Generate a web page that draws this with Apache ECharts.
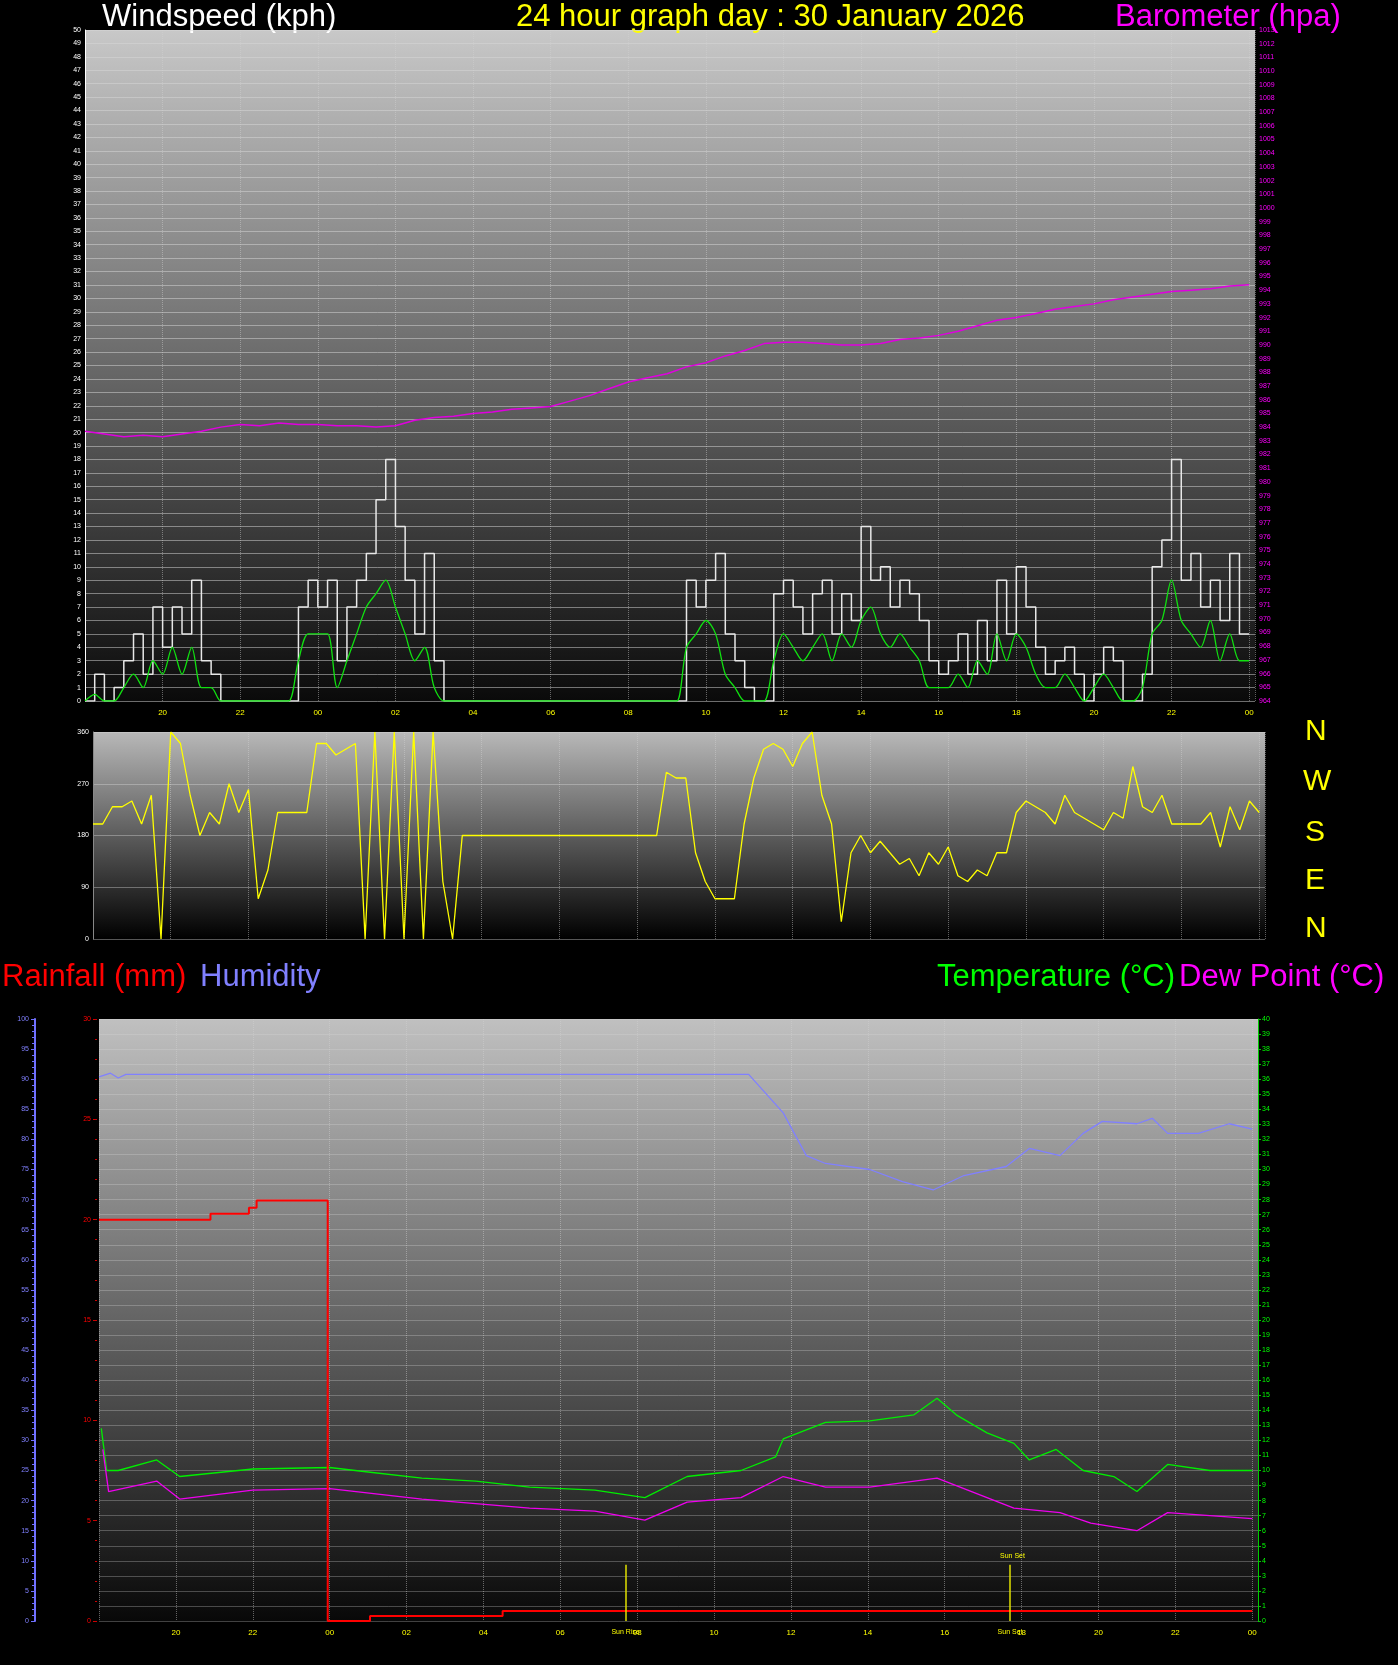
<!DOCTYPE html>
<html><head><meta charset="utf-8">
<script src="https://cdn.jsdelivr.net/npm/echarts@6/dist/echarts.min.js"></script>
<style>html,body{margin:0;background:#000}#c{width:1398px;height:1665px}</style>
</head><body><div id="c"></div>
<script>
// hours measured from 00:00 of previous day (18 = 18:00, 48 = 00:00 next)
const gustByHour = {
 18:[0,2,0,1],19:[3,5,2,7],20:[4,7,5,9],21:[3,2,0,0],22:[0,0,0,0],23:[0,0,7,9],
 24:[7,9,3,7],25:[9,11,15,18],26:[13,9,5,11],27:[3,0,0,0],28:[0,0,0,0],29:[0,0,0,0],
 30:[0,0,0,0],31:[0,0,0,0],32:[0,0,0,0],33:[0,0,9,7],34:[9,11,5,3],35:[1,0,0,8],
 36:[9,7,5,8],37:[9,5,8,6],38:[13,9,10,7],39:[9,8,6,3],40:[2,3,5,2],41:[6,3,9,5],
 42:[10,7,4,2],43:[3,4,2,0],44:[2,4,3,0],45:[0,2,10,12],46:[18,9,11,7],47:[9,6,11,5],48:[5]};
const avgByHour = {
 18:[0,0.5,0,0],19:[1,2,1,3],20:[2,4,2,4],21:[1,1,0,0],22:[0,0,0,0],23:[0,0,3,5],
 24:[5,5,1,3],25:[5,7,8,9],26:[7,5,3,4],27:[1,0,0,0],28:[0,0,0,0],29:[0,0,0,0],
 30:[0,0,0,0],31:[0,0,0,0],32:[0,0,0,0],33:[0,0,4,5],34:[6,5,2,1],35:[0,0,0,3],
 36:[5,4,3,4],37:[5,3,5,4],38:[6,7,5,4],39:[5,4,3,1],40:[1,1,2,1],41:[3,2,5,3],
 42:[5,4,2,1],43:[1,2,1,0],44:[1,2,1,0],45:[0,1,5,6],46:[9,6,5,4],47:[6,3,5,3],48:[3]};
const dirByHour = {
 18:[200,200,230,230],19:[240,200,250,0],20:[360,340,250,180],21:[220,200,270,220],
 22:[260,70,120,220],23:[220,220,220,340],24:[340,320,330,340],25:[0,360,0,360],
 26:[0,360,0,360],27:[100,0,180,180],28:[180,180,180,180],29:[180,180,180,180],
 30:[180,180,180,180],31:[180,180,180,180],32:[180,180,180,290],33:[280,280,150,100],
 34:[70,70,70,200],35:[280,330,340,330],36:[300,340,360,250],37:[200,30,150,180],
 38:[150,170,150,130],39:[140,110,150,130],40:[160,110,100,120],41:[110,150,150,220],
 42:[240,230,220,200],43:[250,220,210,200],44:[190,220,210,300],45:[230,220,250,200],
 46:[200,200,200,220],47:[160,230,190,240],48:[220]};
const baroValues = [983.7,983.5,983.3,983.4,983.3,983.5,983.7,984.0,984.2,984.1,984.3,984.2,
 984.2,984.1,984.1,984.0,984.1,984.5,984.7,984.8,985.0,985.1,985.3,985.4,985.5,985.9,986.3,
 986.8,987.3,987.6,987.9,988.4,988.7,989.2,989.6,990.1,990.2,990.2,990.1,990.0,990.0,990.1,
 990.4,990.5,990.7,991.0,991.4,991.8,992.0,992.3,992.6,992.8,993.0,993.3,993.5,993.7,993.9,
 994.0,994.1,994.3,994.4];
const humidity = [[18,90.4],[18.3,91],[18.5,90.2],[18.7,90.8],[19,90.8],[34.9,90.8],[35.8,84.4],[36.4,77.3],
 [36.9,76],[38.05,75],[38.9,73],[39.7,71.6],[40.5,74],[41.6,75.5],[42.2,78.5],[43,77.3],[43.6,81],
 [44.1,83],[45,82.6],[45.4,83.5],[45.8,81],[46.6,81],[47.4,82.6],[48,81.7]];
const temperature = [[18.06,12.8],[18.2,10],[18.5,10],[19.5,10.7],[20.1,9.6],[22,10.1],[24,10.2],[25,9.9],
 [26.4,9.5],[27.8,9.3],[29.2,8.9],[30.9,8.7],[32.2,8.2],[33.3,9.6],[34.7,10],[35.6,10.9],[35.8,12.1],
 [36.9,13.2],[38.05,13.3],[39.2,13.7],[39.8,14.8],[40.3,13.7],[41.1,12.5],[41.8,11.8],[42.2,10.7],
 [42.9,11.4],[43.6,10],[44.4,9.6],[45,8.6],[45.8,10.4],[46.9,10],[48,10]];
const dewPoint = [[18.1,11.4],[18.25,8.6],[19.5,9.3],[20.1,8.1],[22,8.7],[24,8.8],[26.4,8.1],[29.2,7.5],
 [30.9,7.3],[32.2,6.7],[33.3,7.9],[34.7,8.2],[35.8,9.6],[36.9,8.9],[38.05,8.9],[39.8,9.5],[41.1,8.2],
 [41.8,7.5],[43,7.2],[43.8,6.5],[45,6],[45.8,7.2],[46.9,7],[48,6.8]];
const rainfall = [[18,20],[20.9,20],[20.9,20.3],[21.9,20.3],[21.9,20.6],[22.1,20.6],[22.1,20.96],
 [23.95,20.96],[23.95,0],[25.05,0],[25.05,0.25],[28.5,0.25],[28.5,0.5],[48,0.5]];
const sunRise = 31.7, sunSet = 41.7;
const xTicks = [20,22,24,26,28,30,32,34,36,38,40,42,44,46,48];

function expand(obj){const out=[];Object.keys(obj).map(Number).sort((a,b)=>a-b).forEach(h=>obj[h].forEach((v,i)=>out.push([h+i*0.25,v])));return out;}
const gust=expand(gustByHour), avg=expand(avgByHour), dir=expand(dirByHour);
const baro=baroValues.map((v,i)=>[18+i*0.5,v]);

const F='Liberation Sans, Arial, sans-serif';
const fmtH=v=>{const h=Math.round(v)%24;return (h<10?'0':'')+h;};
function grad(a,b){return {type:'linear',x:0,y:0,x2:0,y2:1,colorStops:[{offset:0,color:a},{offset:1,color:b}]};}
function xAx(gi,show){return {type:'value',gridIndex:gi,min:18,max:48.15,interval:2,
 axisLine:{show:false},axisTick:{show:false},
 axisLabel:{show:show,color:'#ffff00',fontSize:8,fontFamily:F,formatter:v=>xTicks.includes(v)?fmtH(v):''},
 splitLine:{show:true,lineStyle:{color:'rgba(210,210,210,0.45)',type:'dotted'}}};}

const chart=echarts.init(document.getElementById('c'));
chart.setOption({
 backgroundColor:'#000',animation:false,
 grid:[
  {left:85,right:143,top:30,height:671,show:true,backgroundColor:grad('#c8c8c8','#0a0a0a'),borderWidth:0},
  {left:93,right:133,top:732,height:207,show:true,backgroundColor:grad('#b8b8b8','#000000'),borderWidth:0},
  {left:99,right:140,top:1019,height:602,show:true,backgroundColor:grad('#c0c0c0','#080808'),borderWidth:0}],
 xAxis:[xAx(0,true),xAx(1,false),xAx(2,true)],
 yAxis:[
  {type:'value',gridIndex:0,min:0,max:50,interval:1,axisLine:{show:true,lineStyle:{color:'#fff'}},
   axisTick:{show:false},axisLabel:{color:'#fff',fontSize:7,fontFamily:F,margin:4},
   splitLine:{lineStyle:{color:'rgba(215,215,215,0.5)'}}},
  {type:'value',gridIndex:0,min:964,max:1013,interval:1,position:'right',axisLine:{show:false},
   axisTick:{show:false},axisLabel:{color:'#ff00ff',fontSize:7,fontFamily:F,margin:4,formatter:v=>String(v)},splitLine:{show:false}},
  {type:'value',gridIndex:1,min:0,max:360,interval:90,axisLine:{show:true,lineStyle:{color:'#888'}},
   axisTick:{show:false},axisLabel:{color:'#fff',fontSize:7,fontFamily:F,margin:4},
   splitLine:{lineStyle:{color:'rgba(215,215,215,0.4)'}}},
  {type:'value',gridIndex:2,min:0,max:100,interval:5,position:'left',offset:64,
   axisLine:{show:true,lineStyle:{color:'#7070ff',width:2}},axisTick:{show:true,length:4,lineStyle:{color:'#7070ff'}},
   minorTick:{show:true,splitNumber:5,length:3,lineStyle:{color:'#7070ff'}},
   axisLabel:{color:'#8080ff',fontSize:7,fontFamily:F,margin:6},splitLine:{show:false}},
  {type:'value',gridIndex:2,min:0,max:30,interval:5,position:'left',offset:2,axisLine:{show:false},
   axisTick:{show:true,length:4,lineStyle:{color:'#cc0000'}},minorTick:{show:true,splitNumber:5,length:2,lineStyle:{color:'#cc0000'}},
   axisLabel:{color:'#ff0000',fontSize:7,fontFamily:F,margin:6},splitLine:{show:false}},
  {type:'value',gridIndex:2,min:0,max:40,interval:1,position:'right',axisLine:{show:true,lineStyle:{color:'#00cc00'}},
   axisTick:{show:true,length:3,lineStyle:{color:'#00cc00'}},axisLabel:{color:'#00ff00',fontSize:7,fontFamily:F,margin:4},
   splitLine:{show:true,lineStyle:{color:'rgba(215,215,215,0.3)'}}}],
 series:[
  {type:'line',xAxisIndex:0,yAxisIndex:1,data:baro,showSymbol:false,lineStyle:{color:'#e000e0',width:1.5}},
  {type:'line',xAxisIndex:0,yAxisIndex:0,data:gust,step:'end',showSymbol:false,lineStyle:{color:'#e8e8e8',width:1.5}},
  {type:'line',xAxisIndex:0,yAxisIndex:0,data:avg,smooth:0.3,showSymbol:false,lineStyle:{color:'#10e010',width:1.3}},
  {type:'line',xAxisIndex:1,yAxisIndex:2,data:dir,showSymbol:false,lineStyle:{color:'#ffff00',width:1.3}},
  {type:'line',xAxisIndex:2,yAxisIndex:3,data:humidity,showSymbol:false,lineStyle:{color:'#8080ff',width:1.3}},
  {type:'line',xAxisIndex:2,yAxisIndex:5,data:temperature,showSymbol:false,lineStyle:{color:'#00ee00',width:1.3}},
  {type:'line',xAxisIndex:2,yAxisIndex:5,data:dewPoint,showSymbol:false,lineStyle:{color:'#ee00ee',width:1.3}},
  {type:'line',xAxisIndex:2,yAxisIndex:4,data:rainfall,showSymbol:false,lineStyle:{color:'#ff0000',width:2},
   markLine:{symbol:'none',silent:true,lineStyle:{color:'#e0e000',type:'solid',width:1.5},
    label:{position:'start',color:'#ffff00',fontSize:7,fontFamily:F,distance:8},
    data:[[{coord:[sunRise,0],name:'Sun Rise'},{coord:[sunRise,2.8]}],
          [{coord:[sunSet,0],name:'Sun Set'},{coord:[sunSet,2.8]}]]}}
 ],
 graphic:[
  {type:'text',left:102,top:2,style:{text:'Windspeed (kph)',fill:'#fff',font:'31px '+F}},
  {type:'text',left:516,top:2,style:{text:'24 hour graph day : 30 January 2026',fill:'#ffff00',font:'31px '+F}},
  {type:'text',left:1115,top:2,style:{text:'Barometer (hpa)',fill:'#ff00ff',font:'31px '+F}},
  {type:'text',left:2,top:962,style:{text:'Rainfall (mm)',fill:'#ff0000',font:'31px '+F}},
  {type:'text',left:200,top:962,style:{text:'Humidity',fill:'#8080ff',font:'31px '+F}},
  {type:'text',left:937,top:962,style:{text:'Temperature (°C)',fill:'#00ff00',font:'31px '+F}},
  {type:'text',left:1179,top:962,style:{text:'Dew Point (°C)',fill:'#ff00ff',font:'31px '+F}},
  {type:'text',left:1305,top:717,style:{text:'N',fill:'#ffff00',font:'30px '+F}},
  {type:'text',left:1303,top:767,style:{text:'W',fill:'#ffff00',font:'30px '+F}},
  {type:'text',left:1305,top:818,style:{text:'S',fill:'#ffff00',font:'30px '+F}},
  {type:'text',left:1305,top:866,style:{text:'E',fill:'#ffff00',font:'30px '+F}},
  {type:'text',left:1305,top:914,style:{text:'N',fill:'#ffff00',font:'30px '+F}},
  {type:'text',left:1000,top:1553,style:{text:'Sun Set',fill:'#ffff00',font:'7px '+F}}
 ]
});
</script></body></html>
